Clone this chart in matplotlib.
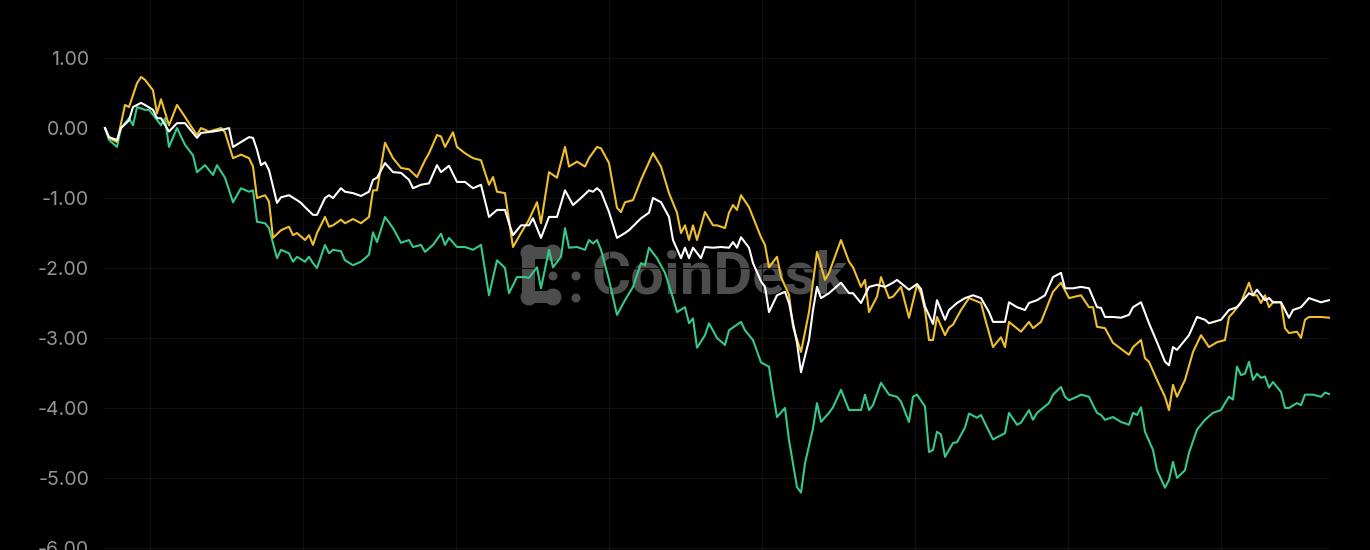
import numpy as np
import matplotlib.pyplot as plt
from matplotlib.patches import Circle, Rectangle

# ---------------------------------
# data (day index, cumulative value)
# ---------------------------------
gold_days = [0, 1, 3, 5, 6, 8, 9, 10, 12, 13, 14, 16, 18, 20, 21, 23, 24, 26, 29, 30,
             32, 34, 36, 37, 38, 40, 41, 42, 44, 46, 47, 48, 50, 51, 52, 53, 55, 56, 57, 59,
             60, 62, 64, 66, 67, 68, 70, 72, 74, 76, 78, 80, 81, 83, 84, 85, 87, 88, 90, 92,
             94, 96, 97, 98, 100, 102, 104, 106, 108, 109, 111, 113, 115, 116, 118, 120, 121, 123, 124, 126,
             128, 129, 130, 132, 134, 137, 139, 141, 143, 144, 145, 146, 147, 148, 150, 152, 153, 155, 156, 157,
             158, 159, 161, 164, 165, 166, 168, 169, 171, 172, 174, 176, 178, 180, 181, 184, 186, 187, 189, 190,
             191, 193, 194, 196, 197, 199, 201, 203, 204, 205, 206, 207, 208, 210, 211, 212, 214, 216, 219, 220,
             222, 224, 225, 226, 229, 231, 232, 234, 237, 239, 241, 244, 246, 247, 248, 250, 252, 256, 257, 259,
             260, 261, 263, 265, 266, 267, 268, 270, 272, 274, 276, 278, 280, 281, 282, 284, 286, 287, 288, 289,
             290, 291, 292, 294, 295, 296, 298, 299, 300, 301, 304, 306]
gold_vals = [0.0, -0.14, -0.2, 0.33, 0.30, 0.64, 0.73, 0.69, 0.54, 0.21, 0.41, 0.04, 0.33, 0.16, 0.07, -0.1, 0.0, -0.05, 0.0, -0.06,
             -0.43, -0.38, -0.43, -0.55, -1.0, -0.96, -1.05, -1.57, -1.46, -1.41, -1.53, -1.5, -1.6, -1.53, -1.67, -1.5, -1.27, -1.41, -1.39, -1.31,
             -1.36, -1.3, -1.36, -1.27, -0.89, -0.89, -0.21, -0.43, -0.57, -0.59, -0.7, -0.46, -0.36, -0.1, -0.12, -0.27, -0.06, -0.27, -0.36, -0.43,
             -0.46, -0.81, -0.7, -0.91, -0.93, -1.7, -1.5, -1.31, -1.06, -1.36, -0.63, -0.71, -0.27, -0.55, -0.48, -0.55, -0.43, -0.27, -0.29, -0.5,
             -1.14, -1.2, -1.06, -1.03, -0.74, -0.36, -0.55, -0.93, -1.21, -1.5, -1.39, -1.6, -1.39, -1.6, -1.2, -1.39, -1.39, -1.43, -1.21, -1.1,
             -1.17, -0.96, -1.13, -1.56, -1.67, -1.99, -1.84, -2.13, -2.38, -2.84, -3.2, -2.63, -1.77, -2.17, -2.07, -1.6, -1.91, -1.99, -2.27, -2.17,
             -2.63, -2.41, -2.13, -2.43, -2.41, -2.27, -2.71, -2.24, -2.36, -2.6, -3.03, -3.03, -2.7, -2.96, -2.85, -2.81, -2.6, -2.43, -2.5, -2.72,
             -3.13, -2.99, -3.13, -2.77, -2.91, -2.77, -2.86, -2.77, -2.34, -2.21, -2.43, -2.39, -2.56, -2.56, -2.84, -2.86, -3.07, -3.24, -3.13, -3.03,
             -3.29, -3.34, -3.6, -3.84, -4.03, -3.67, -3.84, -3.6, -3.2, -2.96, -3.13, -3.06, -3.03, -2.7, -2.64, -2.49, -2.21, -2.39, -2.39, -2.5,
             -2.39, -2.56, -2.49, -2.49, -2.86, -2.93, -2.91, -3.0, -2.74, -2.7, -2.7, -2.71]

white_days = [0, 1, 3, 4, 6, 7, 9, 10, 12, 13, 14, 16, 18, 20, 21, 23, 24, 27, 29, 31,
              32, 34, 36, 37, 38, 39, 40, 41, 43, 44, 46, 48, 49, 50, 52, 53, 55, 56, 57, 59,
              60, 62, 64, 66, 67, 68, 70, 72, 74, 76, 77, 79, 81, 83, 84, 86, 88, 90, 92, 94,
              96, 98, 100, 101, 102, 104, 106, 107, 109, 111, 113, 115, 117, 119, 121, 122, 123, 124, 126, 128,
              130, 131, 134, 136, 137, 139, 141, 142, 144, 145, 146, 147, 149, 150, 152, 154, 156, 157, 158, 159,
              161, 162, 164, 165, 166, 168, 170, 171, 173, 174, 176, 177, 178, 179, 181, 184, 186, 187, 189, 191,
              193, 195, 197, 198, 201, 203, 204, 205, 207, 208, 209, 210, 211, 213, 215, 217, 219, 221, 222, 225,
              226, 228, 230, 231, 233, 235, 237, 239, 240, 242, 244, 246, 248, 249, 250, 252, 254, 256, 257, 259,
              261, 263, 265, 266, 267, 268, 271, 273, 275, 276, 279, 281, 283, 286, 287, 288, 290, 291, 292, 294,
              296, 297, 299, 301, 304, 306]
white_vals = [0.0, -0.13, -0.17, 0.0, 0.11, 0.3, 0.36, 0.33, 0.26, 0.14, 0.14, -0.05, 0.07, 0.07, 0.0, -0.14, -0.07, -0.05, -0.03, 0.0,
              -0.27, -0.2, -0.13, -0.14, -0.31, -0.53, -0.49, -0.6, -1.07, -0.99, -0.96, -1.03, -1.07, -1.13, -1.24, -1.24, -1.0, -0.96, -1.0, -0.86,
              -0.91, -0.93, -0.97, -0.91, -0.74, -0.71, -0.5, -0.63, -0.64, -0.74, -0.86, -0.81, -0.79, -0.53, -0.63, -0.54, -0.77, -0.77, -0.86, -0.81,
              -1.27, -1.17, -1.17, -1.36, -1.53, -1.39, -1.39, -1.29, -1.57, -1.27, -1.27, -0.89, -1.1, -1.0, -0.89, -0.91, -0.86, -0.91, -1.2, -1.57,
              -1.5, -1.46, -1.29, -1.21, -1.0, -1.06, -1.27, -1.6, -1.86, -1.71, -1.86, -1.71, -1.86, -1.7, -1.71, -1.7, -1.71, -1.63, -1.71, -1.56,
              -1.71, -1.93, -2.19, -2.27, -2.63, -2.39, -2.34, -2.5, -3.07, -3.49, -3.03, -2.6, -2.27, -2.43, -2.36, -2.21, -2.36, -2.36, -2.5, -2.27,
              -2.24, -2.27, -2.21, -2.17, -2.31, -2.23, -2.3, -2.55, -2.8, -2.46, -2.6, -2.74, -2.6, -2.5, -2.43, -2.39, -2.43, -2.63, -2.77, -2.77,
              -2.49, -2.56, -2.6, -2.5, -2.46, -2.39, -2.13, -2.07, -2.29, -2.29, -2.27, -2.29, -2.56, -2.57, -2.7, -2.7, -2.71, -2.67, -2.56, -2.49,
              -2.79, -3.06, -3.34, -3.39, -3.13, -3.17, -2.96, -2.7, -2.74, -2.79, -2.74, -2.6, -2.56, -2.36, -2.39, -2.31, -2.46, -2.43, -2.49, -2.49,
              -2.71, -2.6, -2.56, -2.43, -2.49, -2.46]

green_days = [0, 1, 3, 4, 6, 7, 8, 10, 11, 12, 14, 15, 16, 18, 20, 22, 23, 25, 27, 28,
              30, 32, 34, 36, 37, 38, 40, 41, 43, 44, 46, 47, 48, 50, 51, 52, 53, 55, 56, 57,
              59, 60, 62, 64, 66, 67, 68, 70, 72, 74, 76, 77, 79, 80, 82, 84, 85, 86, 88, 90,
              92, 94, 96, 98, 100, 101, 103, 105, 106, 108, 109, 111, 112, 114, 115, 116, 118, 120, 121, 122,
              123, 124, 126, 128, 130, 132, 134, 135, 136, 138, 140, 142, 143, 145, 146, 147, 148, 150, 151, 153,
              155, 156, 158, 159, 160, 162, 164, 166, 167, 168, 170, 171, 173, 174, 175, 177, 178, 179, 181, 182,
              184, 186, 187, 189, 190, 191, 192, 194, 196, 198, 199, 201, 202, 203, 205, 206, 207, 208, 209, 210,
              212, 213, 215, 216, 218, 219, 220, 222, 225, 226, 228, 229, 231, 232, 233, 236, 237, 239, 240, 241,
              243, 244, 246, 247, 248, 249, 250, 252, 254, 256, 257, 258, 259, 260, 262, 263, 265, 266, 267, 268,
              270, 271, 273, 275, 277, 279, 280, 281, 282, 283, 284, 285, 286, 287, 288, 289, 290, 291, 292, 294,
              295, 296, 298, 299, 300, 302, 304, 305, 306]
green_vals = [0.0, -0.17, -0.27, 0.0, 0.14, 0.04, 0.3, 0.26, 0.26, 0.19, 0.04, 0.14, -0.27, 0.0, -0.24, -0.39, -0.63, -0.53, -0.67, -0.53,
              -0.71, -1.06, -0.86, -0.91, -0.89, -1.34, -1.36, -1.43, -1.86, -1.74, -1.79, -1.91, -1.84, -1.91, -1.84, -1.93, -2.0, -1.67, -1.79, -1.74,
              -1.76, -1.89, -1.96, -1.91, -1.81, -1.49, -1.63, -1.27, -1.43, -1.64, -1.6, -1.7, -1.67, -1.77, -1.67, -1.51, -1.67, -1.57, -1.7, -1.7,
              -1.74, -1.67, -2.39, -1.89, -2.0, -2.36, -2.13, -2.13, -2.14, -1.99, -2.29, -1.74, -1.99, -1.84, -1.43, -1.71, -1.7, -1.74, -1.6, -1.65,
              -1.6, -1.74, -2.17, -2.67, -2.46, -2.27, -1.93, -1.96, -1.71, -1.86, -2.07, -2.43, -2.63, -2.56, -2.79, -2.72, -3.14, -2.96, -2.79, -3.0,
              -3.1, -2.89, -2.81, -2.77, -2.89, -3.03, -3.35, -3.41, -3.79, -4.13, -4.0, -4.46, -5.13, -5.21, -4.79, -4.29, -3.93, -4.2, -4.07, -3.99,
              -3.74, -4.03, -4.03, -4.03, -3.81, -4.03, -3.96, -3.64, -3.81, -3.84, -3.91, -4.2, -3.84, -3.81, -3.98, -4.63, -4.6, -4.34, -4.38, -4.7,
              -4.5, -4.49, -4.28, -4.08, -4.14, -4.1, -4.22, -4.45, -4.36, -4.07, -4.24, -4.21, -4.03, -4.17, -4.07, -3.93, -3.81, -3.7, -3.84, -3.89,
              -3.84, -3.81, -3.84, -3.96, -4.07, -4.1, -4.17, -4.13, -4.2, -4.24, -4.07, -4.1, -3.99, -4.34, -4.6, -4.89, -5.14, -5.03, -4.77, -5.0,
              -4.89, -4.64, -4.31, -4.17, -4.07, -4.03, -3.93, -3.84, -3.88, -3.41, -3.53, -3.51, -3.34, -3.6, -3.51, -3.57, -3.55, -3.71, -3.63, -3.77,
              -4.0, -4.0, -3.93, -3.96, -3.81, -3.81, -3.84, -3.78, -3.8]

y_ticks = [1, 0, -1, -2, -3, -4, -5, -6]
y_labels = ["1.00", "0.00", "-1.00", "-2.00", "-3.00", "-4.00", "-5.00", "-6.00"]

# ----------------
# figure
# ----------------
plt.rcParams["font.family"] = ["Inter", "DejaVu Sans"]

fig = plt.figure(figsize=(13.7, 5.5), dpi=100, facecolor="black")

# watermark layer (pixel space), sits behind the chart
wm = fig.add_axes([0, 0, 1, 1], zorder=0)
wm.set_xlim(0, 1370)
wm.set_ylim(550, 0)
wm.axis("off")
wm.set_facecolor("black")
wm_color = "#4d4d4d"
for cx, cy in [(529, 253), (553, 253), (529, 297), (553, 297)]:
    wm.add_patch(Circle((cx, cy), 8.5, color=wm_color, lw=0))
wm.add_patch(Rectangle((529, 247), 24, 12, color=wm_color, lw=0))
wm.add_patch(Rectangle((529, 291), 24, 12, color=wm_color, lw=0))
wm.add_patch(Rectangle((522, 253), 13, 44, color=wm_color, lw=0))
for cx, cy in [(553, 276), (576, 276), (576, 298)]:
    wm.add_patch(Circle((cx, cy), 4.5, color=wm_color, lw=0))
wm.text(592, 278, "CoinDesk", color=wm_color, fontsize=43, fontweight="bold",
        family=["Roboto", "DejaVu Sans"], ha="left", va="center")

ax = fig.add_axes([103 / 1370, 0, 1227 / 1370, 1], zorder=1)
ax.patch.set_alpha(0)

ax.plot(green_days, green_vals, color="#35c98a", lw=1.5, zorder=3)
ax.plot(gold_days, gold_vals, color="#f0c02c", lw=1.5, zorder=4)
ax.plot(white_days, white_vals, color="#ffffff", lw=1.5, zorder=5)

ax.set_xlim(-0.5, 306.25)
ax.set_ylim(-6.03, 1.83)

ax.set_yticks(y_ticks)
ax.set_yticklabels(y_labels)
ax.set_xticks(np.arange(11.25, 300, 38.25))
ax.set_xticklabels([])

ax.tick_params(axis="both", length=0, colors="#939393", labelsize=14, pad=10)
ax.grid(True, color="#101010", lw=0.8)
ax.set_axisbelow(True)
for s in ax.spines.values():
    s.set_visible(False)

fig.savefig("out.png", dpi=100, facecolor="black")
